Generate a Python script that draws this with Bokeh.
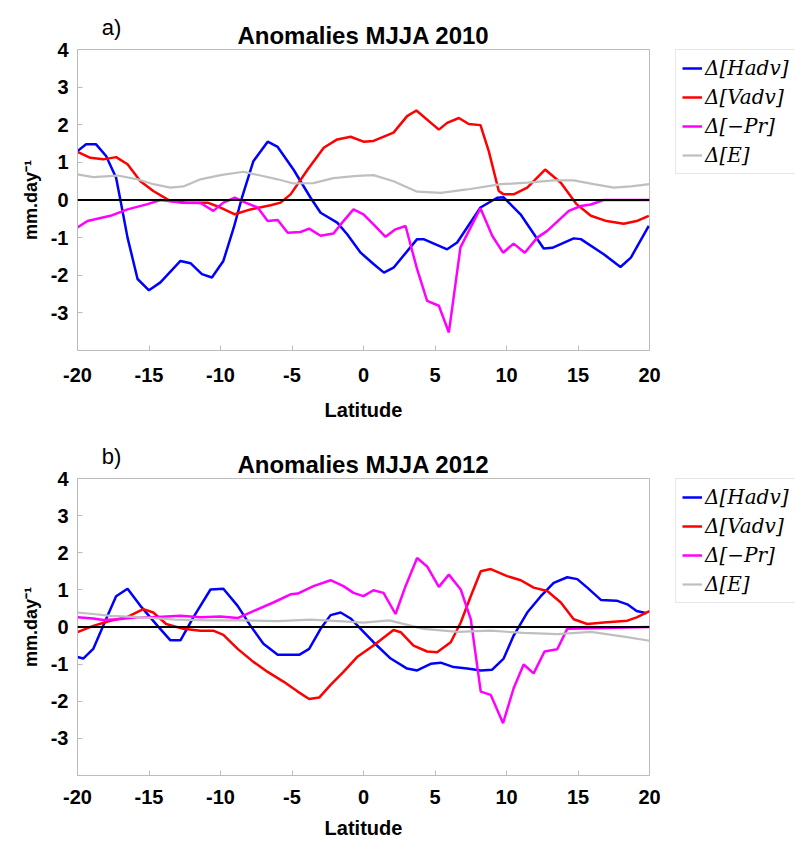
from bokeh.plotting import figure
from bokeh.models import Legend, LegendItem, Span, FixedTicker, Range1d
from bokeh.layouts import column, row
from bokeh.core.properties import value
from bokeh.embed import file_html
from bokeh.resources import INLINE

# ---------------- data ----------------
X_TICKS = [-20, -15, -10, -5, 0, 5, 10, 15, 20]
Y_TICKS = [-3, -2, -1, 0, 1, 2, 3, 4]
LEGEND_LABELS = ["Δ[Hadv]", "Δ[Vadv]", "Δ[−Pr]", "Δ[E]"]
TITLES = ["Anomalies MJJA 2010", "Anomalies MJJA 2012"]
TAGS = ["a)", "b)"]

# Panel a (2010)
a_hadv_lat = [-20, -19.4, -18.7, -18.0, -17.3, -17.0, -16.5, -15.8, -15.0, -14.2, -12.8, -12.1, -11.3, -10.6,
              -9.8, -9.07, -8.5, -7.7, -6.7, -6.0, -4.9, -3.7, -3.0, -1.84, -1.14, -0.2, 0.7, 1.43, 2.1, 3.75,
              4.2, 5.85, 6.55, 8.18, 9.35, 9.8, 10.98, 12.6, 13.2, 14.7, 15.2, 16.8, 17.97, 18.7, 19.95]
a_hadv = [1.30, 1.48, 1.48, 1.17, 0.59, 0.0, -1.0, -2.1, -2.4, -2.19, -1.62, -1.68, -1.97, -2.06,
          -1.62, -0.73, 0.06, 1.03, 1.55, 1.41, 0.81, 0.06, -0.34, -0.6, -0.91, -1.40, -1.70, -1.93, -1.80, -1.04,
          -1.04, -1.31, -1.13, -0.2, 0.06, 0.07, -0.38, -1.29, -1.27, -1.02, -1.04, -1.44, -1.78, -1.53, -0.69]

a_vadv_lat = [-20, -19.1, -18.2, -17.3, -16.5, -15.6, -14.7, -13.5, -12.3, -10.9, -10.0, -9.0, -7.9, -6.5,
              -5.8, -5.1, -3.9, -2.78, -1.84, -0.9, 0.0, 0.7, 2.1, 3.05, 3.7, 5.27, 5.85, 6.67, 7.36, 8.18,
              8.76, 9.46, 9.8, 10.5, 11.45, 12.7, 13.8, 14.9, 15.9, 17.0, 18.2, 19.1, 19.95]
a_vadv = [1.28, 1.12, 1.08, 1.14, 0.95, 0.50, 0.24, -0.03, -0.07, -0.07, -0.2, -0.38, -0.25, -0.14,
          -0.07, 0.15, 0.81, 1.39, 1.61, 1.68, 1.55, 1.57, 1.79, 2.23, 2.38, 1.87, 2.05, 2.18, 2.02, 1.99,
          1.30, 0.24, 0.15, 0.15, 0.33, 0.81, 0.46, -0.11, -0.42, -0.56, -0.63, -0.56, -0.42]

a_pr_lat = [-20, -19.3, -17.7, -16.5, -15.1, -14.2, -12.8, -11.4, -10.5, -9.8, -9.0, -8.25, -7.4, -6.7,
            -6.0, -5.3, -4.4, -3.8, -3.0, -2.1, -1.4, -0.7, 0.0, 0.7, 1.54, 2.24, 2.94, 3.75, 4.45, 5.27,
            5.97, 6.78, 8.18, 9.0, 9.76, 10.5, 11.28, 12.15, 12.85, 14.36, 15.2, 15.9, 16.8, 20]
a_pr = [-0.73, -0.56, -0.42, -0.25, -0.11, 0.0, -0.07, -0.08, -0.29, -0.07, 0.06, -0.07, -0.2, -0.56,
        -0.53, -0.87, -0.85, -0.76, -0.95, -0.89, -0.56, -0.25, -0.38, -0.65, -0.98, -0.78, -0.69, -1.84, -2.68, -2.81,
        -3.52, -1.26, -0.22, -0.95, -1.40, -1.16, -1.40, -1.0, -0.82, -0.29, -0.16, -0.12, 0.0, 0.0]

a_e_lat = [-20, -18.9, -17.2, -15.8, -14.7, -13.5, -12.6, -11.4, -10.0, -8.4, -7.2, -6.0, -4.9, -3.5,
           -2.1, -0.45, 0.7, 2.1, 3.75, 5.4, 7.25, 9.6, 11.45, 13.3, 14.7, 16.1, 17.5, 18.7, 20]
a_e = [0.68, 0.61, 0.65, 0.55, 0.42, 0.33, 0.36, 0.55, 0.66, 0.75, 0.65, 0.55, 0.44, 0.45,
       0.58, 0.64, 0.66, 0.5, 0.22, 0.19, 0.28, 0.42, 0.46, 0.52, 0.52, 0.42, 0.33, 0.36, 0.42]

# Panel b (2012)
b_hadv_lat = [-20, -19.6, -18.9, -17.9, -17.3, -16.5, -15.6, -14.4, -13.5, -12.8, -11.9, -10.7, -9.8, -8.8,
              -7.9, -7.0, -6.0, -4.5, -3.8, -3.0, -2.3, -1.6, -0.9, -0.2, 0.7, 1.9, 3.05, 3.75, 4.7, 5.4,
              6.3, 7.25, 8.2, 9.0, 9.8, 10.5, 11.45, 12.4, 13.3, 14.25, 14.95, 15.65, 16.6, 17.7, 18.45, 19.1, 19.8]
b_hadv = [-0.81, -0.85, -0.59, 0.3, 0.83, 1.03, 0.57, 0.03, -0.36, -0.36, 0.26, 1.01, 1.03, 0.57,
          0.03, -0.45, -0.75, -0.75, -0.59, -0.05, 0.32, 0.39, 0.23, -0.05, -0.41, -0.85, -1.12, -1.17, -0.99, -0.96,
          -1.08, -1.12, -1.17, -1.15, -0.85, -0.23, 0.39, 0.83, 1.19, 1.34, 1.29, 1.06, 0.73, 0.71, 0.61, 0.43, 0.37]

b_vadv_lat = [-20, -18.9, -17.7, -16.5, -15.4, -14.7, -13.8, -12.6, -11.4, -10.5, -9.8, -8.8, -7.7, -6.7,
              -5.6, -4.6, -3.8, -3.1, -2.3, -1.4, -0.45, 0.7, 2.1, 2.6, 3.5, 4.45, 5.15, 6.1, 6.8, 7.5,
              8.2, 8.9, 10.05, 11.0, 11.9, 12.85, 13.8, 14.7, 15.65, 16.8, 18.45, 19.1, 20]
b_vadv = [-0.14, 0.03, 0.17, 0.27, 0.48, 0.39, 0.08, -0.05, -0.1, -0.1, -0.21, -0.59, -0.94, -1.21,
          -1.47, -1.74, -1.94, -1.90, -1.56, -1.21, -0.81, -0.5, -0.08, -0.14, -0.5, -0.66, -0.68, -0.41, 0.12, 0.83,
          1.5, 1.56, 1.37, 1.26, 1.06, 0.97, 0.66, 0.21, 0.08, 0.12, 0.17, 0.26, 0.43]

b_pr_lat = [-20, -18.9, -18.2, -17.2, -15.8, -14.4, -12.8, -11.4, -10.0, -8.8, -7.7, -6.3, -5.1, -4.6,
            -3.5, -2.3, -1.4, -0.7, 0.0, 0.7, 1.4, 2.24, 2.94, 3.75, 4.45, 5.27, 5.97, 6.8, 7.5, 8.2,
            8.9, 9.76, 10.5, 11.2, 11.9, 12.66, 13.55, 14.25, 20]
b_pr = [0.26, 0.23, 0.19, 0.21, 0.26, 0.27, 0.3, 0.26, 0.28, 0.24, 0.43, 0.66, 0.88, 0.9,
        1.1, 1.26, 1.1, 0.92, 0.83, 0.99, 0.92, 0.35, 1.1, 1.86, 1.63, 1.08, 1.41, 1.01, 0.21, -1.74,
        -1.83, -2.59, -1.65, -1.01, -1.25, -0.66, -0.6, -0.05, 0.0]

b_e_lat = [-20, -18.9, -17.7, -15.4, -13.1, -10.7, -8.4, -6.0, -3.7, -1.4, 0.0, 1.8, 4.2, 6.6,
           8.9, 11.2, 13.55, 15.9, 18.2, 20]
b_e = [0.39, 0.35, 0.3, 0.26, 0.2, 0.18, 0.18, 0.16, 0.2, 0.15, 0.12, 0.18, -0.05, -0.13,
       -0.1, -0.16, -0.19, -0.13, -0.26, -0.37]

# ---------------- styling / layout constants ----------------
COLORS = ["#0000ff", "#ff0000", "#ff00ff", "#bfbfbf"]
WIDTHS = [2.5, 2.5, 2.5, 2.2]
GRAY = "#bcbcbc"
SANS = "Liberation Sans"

FRAME_LEFT = 77
FRAME_W = 572
RIGHT_GAP = 26
MAIN_W = FRAME_LEFT + FRAME_W + RIGHT_GAP     # 675
LEG_W = 120
TOTAL_W = MAIN_W + LEG_W                      # 795
OVERLAP = 14                                  # header overlaps main figure's top border


def make_header(idx, height):
    h = figure(width=TOTAL_W, height=height, x_range=Range1d(0, TOTAL_W), y_range=Range1d(height, 0),
               x_axis_type=None, y_axis_type=None, output_backend="svg", toolbar_location=None,
               min_border=0, outline_line_color=None)
    h.grid.visible = False
    h.background_fill_alpha = 0
    h.border_fill_alpha = 0
    # panel tag, left of the title
    h.text(x=[FRAME_LEFT + 34], y=[height - 22], text=[TAGS[idx]], text_font=value(SANS),
           text_font_size="22px", text_align="center", text_baseline="middle", text_color="black")
    # panel title centred over the frame
    h.text(x=[FRAME_LEFT + FRAME_W / 2], y=[height - 14.5], text=[TITLES[idx]], text_font=value(SANS),
           text_font_style="bold", text_font_size="24px", text_align="center", text_baseline="middle",
           text_color="black")
    h.margin = (0, 0, -OVERLAP, 0)
    return h


def make_panel(series, frame_h, bottom, tick_standoff, label_standoff):
    p = figure(frame_width=FRAME_W, frame_height=frame_h,
               x_range=Range1d(-20, 20), y_range=Range1d(-4, 4),
               output_backend="svg", toolbar_location=None,
               min_border_left=FRAME_LEFT, min_border_right=RIGHT_GAP,
               min_border_top=OVERLAP, min_border_bottom=bottom)
    p.background_fill_color = "white"
    p.border_fill_alpha = 0
    p.outline_line_color = GRAY
    p.outline_line_width = 1
    p.xgrid.visible = False
    p.ygrid.visible = False

    for ax in (p.xaxis[0], p.yaxis[0]):
        ax.axis_line_color = GRAY
        ax.major_tick_line_color = GRAY
        ax.major_tick_in = 5
        ax.major_tick_out = 0
        ax.minor_tick_line_color = None
        ax.major_label_text_font = SANS
        ax.major_label_text_font_style = "bold"
        ax.major_label_text_font_size = "20px"
        ax.major_label_text_color = "black"
        ax.axis_label_text_font = SANS
        ax.axis_label_text_font_style = "bold"
        ax.axis_label_text_color = "black"

    p.xaxis.ticker = FixedTicker(ticks=X_TICKS)
    p.xaxis.major_label_overrides = {t: str(t) for t in X_TICKS}
    p.xaxis.major_label_standoff = tick_standoff
    p.xaxis.axis_label = "Latitude"
    p.xaxis.axis_label_text_font_size = "20px"
    p.xaxis.axis_label_standoff = label_standoff

    p.yaxis.ticker = FixedTicker(ticks=Y_TICKS)
    p.yaxis.major_label_overrides = {t: str(t) for t in Y_TICKS}
    p.yaxis.major_label_standoff = 9
    p.yaxis.axis_label = "mm.day⁻¹"
    p.yaxis.axis_label_text_font_size = "18px"
    p.yaxis.axis_label_standoff = 7

    p.add_layout(Span(location=0, dimension="width", line_color="black", line_width=2))

    for (lat, vals), col, w in zip(series, COLORS, WIDTHS):
        p.line(lat, vals, line_color=col, line_width=w)
    return p


def make_legend_fig(height):
    lf = figure(width=LEG_W, height=height, x_range=Range1d(0, 1), y_range=Range1d(0, 1),
                x_axis_type=None, y_axis_type=None, output_backend="svg", toolbar_location=None,
                min_border=0, outline_line_color=None)
    lf.grid.visible = False
    lf.background_fill_alpha = 0
    lf.border_fill_alpha = 0
    # legend-only renderers: their (off-range) points are never visible
    rs = [lf.line([-2, -1], [-2, -1], line_color=c, line_width=w) for c, w in zip(COLORS, WIDTHS)]
    legend = Legend(items=[LegendItem(label=lbl, renderers=[r]) for lbl, r in zip(LEGEND_LABELS, rs)],
                    location="top_left", margin=0, padding=6, spacing=5,
                    glyph_width=20, glyph_height=24, label_height=24, label_standoff=3,
                    label_text_font="DejaVu Serif", label_text_font_style="italic",
                    label_text_font_size="20px", label_text_color="black",
                    border_line_color="#cfcfcf", border_line_width=1,
                    background_fill_color="white", background_fill_alpha=1.0)
    lf.add_layout(legend)
    return lf


# panel a: frame 49..350
ha = make_header(0, 49)
pa = make_panel([(a_hadv_lat, a_hadv), (a_vadv_lat, a_vadv), (a_pr_lat, a_pr), (a_e_lat, a_e)],
                frame_h=301, bottom=78, tick_standoff=17, label_standoff=14)
la = make_legend_fig(OVERLAP + 301 + 78)

# panel b: frame 478..775
hb = make_header(1, 50)
pb = make_panel([(b_hadv_lat, b_hadv), (b_vadv_lat, b_vadv), (b_pr_lat, b_pr), (b_e_lat, b_e)],
                frame_h=297, bottom=70, tick_standoff=14, label_standoff=10)
lb = make_legend_fig(OVERLAP + 297 + 70)

layout = column(ha, row(pa, la, spacing=0), hb, row(pb, lb, spacing=0), spacing=0)
open("out.html", "w").write(file_html(layout, INLINE))
